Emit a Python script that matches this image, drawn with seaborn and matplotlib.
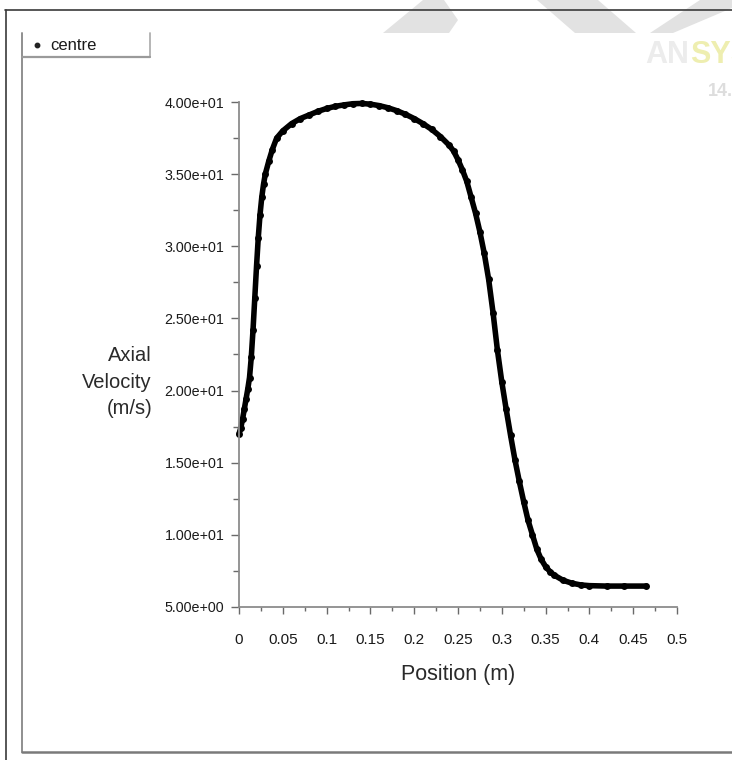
import matplotlib
matplotlib.use("Agg")
import matplotlib.pyplot as plt
from matplotlib.lines import Line2D
from matplotlib.patches import Polygon
from matplotlib.ticker import MultipleLocator, FuncFormatter
import seaborn as sns
import pandas as pd

# Axial velocity sampled along the centre line
position = [0.000, 0.002, 0.004, 0.006, 0.008, 0.010, 0.012, 0.014, 0.016, 0.018,
            0.020, 0.022, 0.024, 0.026, 0.028, 0.030, 0.034, 0.038, 0.043, 0.050,
            0.060, 0.070, 0.080, 0.090, 0.100, 0.110, 0.120, 0.130, 0.140, 0.150,
            0.160, 0.170, 0.180, 0.190, 0.200, 0.210, 0.220, 0.230, 0.240, 0.245,
            0.250, 0.255, 0.260, 0.265, 0.270, 0.275, 0.280, 0.285, 0.290, 0.295,
            0.300, 0.305, 0.310, 0.315, 0.320, 0.325, 0.330, 0.335, 0.340, 0.345,
            0.350, 0.355, 0.360, 0.370, 0.380, 0.390, 0.400, 0.420, 0.440, 0.465]
velocity = [17.0, 17.4, 18.0, 18.7, 19.4, 20.1, 20.9, 22.3, 24.2, 26.4,
            28.6, 30.6, 32.2, 33.4, 34.3, 35.0, 35.9, 36.7, 37.5, 38.0,
            38.5, 38.85, 39.1, 39.35, 39.55, 39.7, 39.8, 39.88, 39.9, 39.85,
            39.75, 39.6, 39.4, 39.15, 38.85, 38.5, 38.1, 37.6, 37.0, 36.6,
            36.0, 35.3, 34.5, 33.4, 32.3, 31.0, 29.5, 27.7, 25.4, 22.8,
            20.6, 18.7, 16.9, 15.2, 13.7, 12.3, 11.0, 10.0, 9.0, 8.3,
            7.8, 7.45, 7.2, 6.85, 6.65, 6.53, 6.48, 6.45, 6.45, 6.45]
series_name = "centre"

x_ticks = [0, 0.05, 0.1, 0.15, 0.2, 0.25, 0.3, 0.35, 0.4, 0.45, 0.5]
y_ticks = [5, 10, 15, 20, 25, 30, 35, 40]

df = pd.DataFrame({"Position (m)": position, "Axial Velocity (m/s)": velocity})

sns.set_theme(style="white")
FONT = ["Liberation Sans", "DejaVu Sans"]
plt.rcParams["font.family"] = FONT

W, H = 732, 760
fig = plt.figure(figsize=(W / 100, H / 100), dpi=100)


def fx(px):
    return px / W


def fy(py):
    return 1 - py / H


ax = fig.add_axes([fx(239), fy(607), fx(677) - fx(239), fy(102) - fy(607)])

sns.lineplot(data=df, x="Position (m)", y="Axial Velocity (m/s)", ax=ax,
             color="black", linewidth=4.0, marker="o", markersize=5.0,
             markeredgewidth=0, sort=False, clip_on=False)

ax.set_xlim(0, 0.5)
ax.set_ylim(5, 40)
ax.set_xticks(x_ticks)
ax.set_yticks(y_ticks)
ax.xaxis.set_minor_locator(MultipleLocator(0.025))
ax.yaxis.set_minor_locator(MultipleLocator(2.5))
ax.xaxis.set_major_formatter(FuncFormatter(lambda v, p: f"{v:g}"))
ax.yaxis.set_major_formatter(FuncFormatter(lambda v, p: f"{v:.2e}"))

for side in ("top", "right"):
    ax.spines[side].set_visible(False)
for side in ("left", "bottom"):
    ax.spines[side].set_color("#8c8c8c")
    ax.spines[side].set_linewidth(1.3)

ax.tick_params(axis="y", which="major", direction="out", length=5.5, width=1.0,
               color="#6a6a6a", labelsize=10.3, pad=5, labelcolor="#1a1a1a", left=True)
ax.tick_params(axis="y", which="minor", direction="out", length=4, width=1.0,
               color="#6a6a6a", left=True)
ax.tick_params(axis="x", which="major", direction="out", length=5, width=1.0,
               color="#6a6a6a", labelsize=11, pad=14, labelcolor="#1a1a1a", bottom=True)
ax.tick_params(axis="x", which="minor", direction="out", length=3, width=1.0,
               color="#6a6a6a", bottom=True)

ax.set_xlabel("Position (m)", fontsize=15.5, color="#2a2a2a", labelpad=12)
ax.set_ylabel("")
fig.text(fx(152), fy(382), "Axial\nVelocity\n(m/s)", ha="right", va="center",
         ma="right", fontsize=14.5, color="#2a2a2a", linespacing=1.5)

# Window frames
frame_dark = "#3a3a3a"
frame_gray = "#8f8f8f"
fig.add_artist(Line2D([fx(5.5), fx(5.5)], [fy(9.5), fy(760)], color=frame_dark, lw=1.2))
fig.add_artist(Line2D([fx(5), fx(732)], [fy(9.5), fy(9.5)], color=frame_dark, lw=1.2))
fig.add_artist(Line2D([fx(22), fx(22)], [fy(33), fy(752)], color=frame_gray, lw=1.4))
fig.add_artist(Line2D([fx(22), fx(732)], [fy(752), fy(752)], color="#7a7a7a", lw=1.8))

# Legend box
fig.add_artist(Line2D([fx(150), fx(150)], [fy(33), fy(57)], color="#b0b0b0", lw=1.3))
fig.add_artist(Line2D([fx(22), fx(150)], [fy(57), fy(57)], color="#9a9a9a", lw=1.6))
fig.add_artist(Line2D([fx(37)], [fy(45)], marker="o", markersize=3.2, color="#222222", lw=0))
fig.text(fx(50), fy(45), series_name, ha="left", va="center", fontsize=12, color="#1a1a1a")

# Light watermark shapes along the top edge
wm = "#e2e2e2"
for pts in ([(423, 0), (444, 0), (458, 20), (449, 33), (383, 33)],
            [(537, 0), (598, 0), (636, 33), (575, 33)],
            [(700, 0), (732, 0), (732, 8), (673, 33), (650, 33)]):
    fig.add_artist(Polygon([(fx(a), fy(b)) for a, b in pts], closed=True,
                           facecolor=wm, edgecolor="none", zorder=-1))

# Product logo, top right (runs off the right edge)
fig.text(fx(645), fy(55), "AN", ha="left", va="center", fontsize=22, fontweight="bold",
         color="#ececec", family=FONT)
fig.text(fx(690), fy(55), "SYS", ha="left", va="center", fontsize=22, fontweight="bold",
         color="#eeeeb0", family=FONT)
fig.text(fx(708), fy(92), "14.5", ha="left", va="center", fontsize=13, fontweight="bold",
         color="#dddddd", family=FONT)

fig.savefig("out.png", dpi=100, facecolor="white")
